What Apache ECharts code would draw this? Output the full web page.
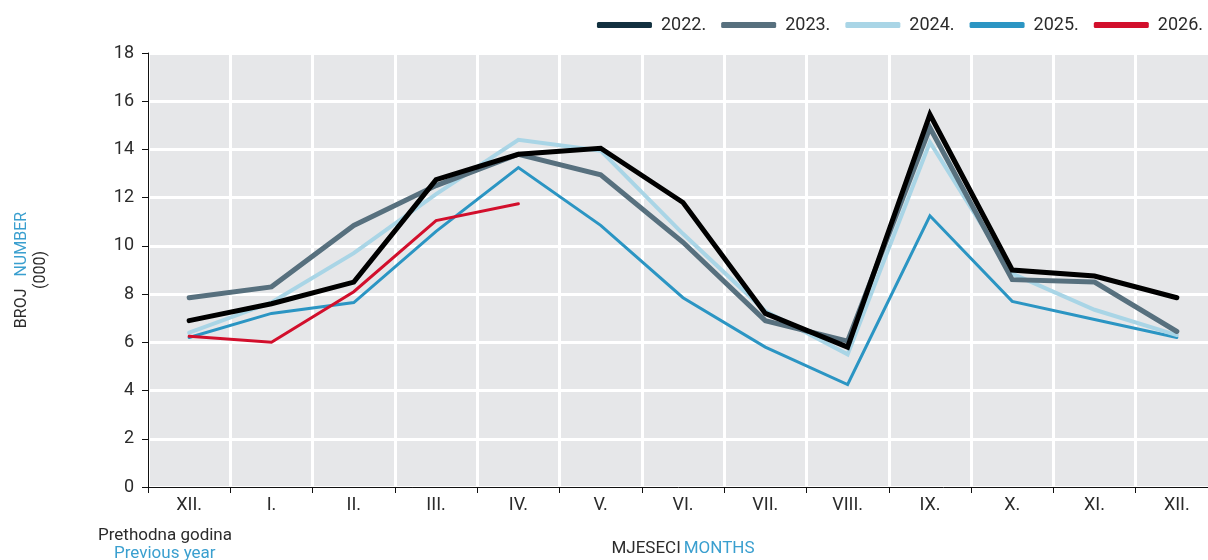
<!DOCTYPE html>
<html>
<head>
<meta charset="utf-8">
<script src="https://cdn.jsdelivr.net/npm/echarts@6/dist/echarts.min.js"></script>
<style>
  html, body { margin: 0; padding: 0; background: #fff; }
  #chart { width: 1208px; height: 560px; }
</style>
</head>
<body>
<div id="chart"></div>
<script>
const months = ['XII.', 'I.', 'II.', 'III.', 'IV.', 'V.', 'VI.', 'VII.', 'VIII.', 'IX.', 'X.', 'XI.', 'XII.'];

const y2022 = [6.9, 7.6, 8.5, 12.75, 13.8, 14.05, 11.8, 7.2, 5.8, 15.45, 9.0, 8.75, 7.85];
const y2023 = [7.85, 8.3, 10.85, 12.5, 13.8, 12.95, 10.15, 6.9, 6.05, 14.9, 8.6, 8.5, 6.45];
const y2024 = [6.4, 7.65, 9.7, 12.15, 14.4, 13.95, 10.5, 7.3, 5.5, 14.3, 8.85, 7.35, 6.3];
const y2025 = [6.2, 7.2, 7.65, 10.6, 13.25, 10.85, 7.85, 5.8, 4.25, 11.25, 7.7, 6.95, 6.2];
const y2026 = [6.25, 6.0, 8.1, 11.05, 11.75];

const fontFamily = 'Roboto, "Liberation Sans", sans-serif';
const darkText = '#2b2b2b';
const blueText = '#3a9fcf';

const chart = echarts.init(document.getElementById('chart'));

function lineSeries(name, data, color, width, iconColor) {
    return {
        name: name,
        type: 'line',
        data: data,
        showSymbol: false,
        symbol: 'none',
        itemStyle: { color: iconColor || color },
        lineStyle: { color: color, width: width, cap: 'round', join: 'miter' },
        emphasis: { disabled: true }
    };
}

let option = {
    animation: false,
    textStyle: { fontFamily: fontFamily },
    legend: {
        top: 11,
        right: 0,
        icon: 'roundRect',
        itemWidth: 55,
        itemHeight: 6,
        itemGap: 15,
        textStyle: { fontSize: 18, color: darkText, fontFamily: fontFamily, padding: [0, 0, 0, 4] },
        data: ['2022.', '2023.', '2024.', '2025.', '2026.']
    },
    grid: {
        left: 148,
        right: -10,
        top: 53,
        bottom: 73,
        outerBoundsMode: 'none',
        show: true,
        backgroundColor: '#e6e7e9',
        borderWidth: 0
    },
    xAxis: {
        type: 'category',
        data: months,
        boundaryGap: true,
        name: '{a|MJESECI} {b|MONTHS}',
        nameLocation: 'middle',
        nameGap: 53,
        nameTextStyle: {
            rich: {
                a: { fontSize: 17, color: darkText, fontFamily: fontFamily },
                b: { fontSize: 17, color: blueText, fontFamily: fontFamily }
            }
        },
        axisLine: { lineStyle: { color: '#111', width: 1 } },
        axisTick: { show: true, length: 6, lineStyle: { color: '#111' } },
        axisLabel: { fontSize: 18, color: darkText, margin: 9 },
        splitLine: { show: true, lineStyle: { color: '#ffffff', width: 3 } }
    },
    yAxis: {
        type: 'value',
        min: 0,
        max: 18,
        interval: 2,
        name: '{a|BROJ}    {b|NUMBER}\n{a|(000)}',
        nameLocation: 'middle',
        nameRotate: 90,
        nameGap: 98,
        nameTextStyle: {
            align: 'center',
            lineHeight: 19,
            rich: {
                a: { fontSize: 16, color: darkText, fontFamily: fontFamily, lineHeight: 19 },
                b: { fontSize: 16, color: blueText, fontFamily: fontFamily, lineHeight: 19 }
            }
        },
        axisLine: { show: true, lineStyle: { color: '#111', width: 1 } },
        axisTick: { show: true, length: 6, lineStyle: { color: '#111' } },
        axisLabel: { fontSize: 18, color: darkText, margin: 14 },
        splitLine: { show: true, lineStyle: { color: '#ffffff', width: 3 } }
    },
    graphic: [
        {
            type: 'text',
            left: 98,
            top: 527,
            style: { text: 'Prethodna godina', fontSize: 17, fill: darkText, fontFamily: fontFamily }
        },
        {
            type: 'text',
            left: 114,
            top: 545,
            style: { text: 'Previous year', fontSize: 17, fill: blueText, fontFamily: fontFamily }
        }
    ],
    series: [
        lineSeries('2025.', y2025, '#2b95c3', 3),
        lineSeries('2024.', y2024, '#a9d5e6', 4),
        lineSeries('2023.', y2023, '#57707e', 5),
        lineSeries('2022.', y2022, '#000000', 5, '#12303f'),
        lineSeries('2026.', y2026, '#d20f2c', 3)
    ]
};

chart.setOption(option);
</script>
</body>
</html>
